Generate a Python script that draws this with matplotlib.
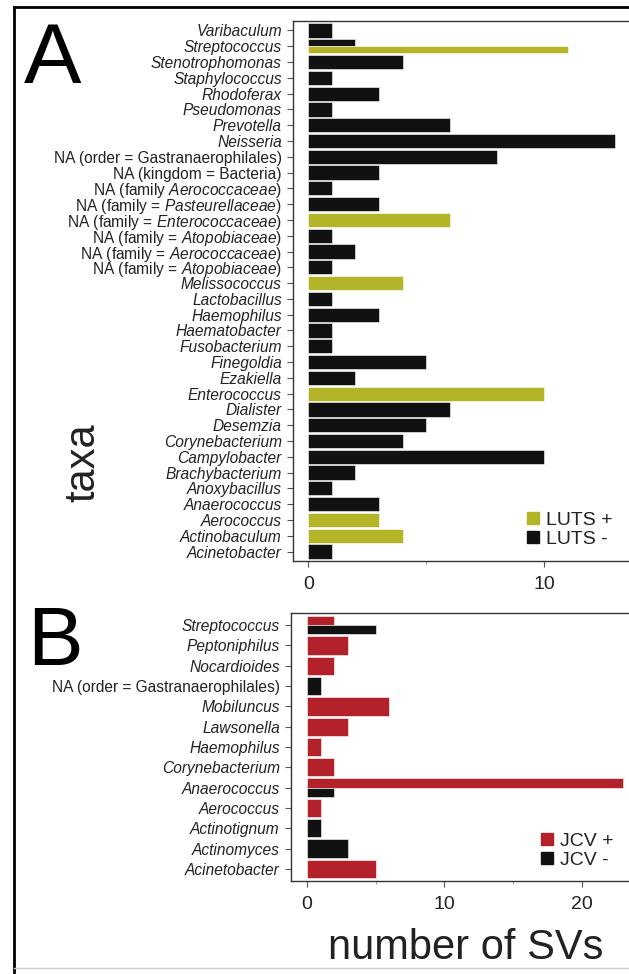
import matplotlib
matplotlib.use("Agg")
import matplotlib.pyplot as plt
from matplotlib.patches import Patch
from matplotlib.lines import Line2D

plt.rcParams['font.family'] = ['Liberation Sans', 'DejaVu Sans']
plt.rcParams['mathtext.fontset'] = 'custom'
plt.rcParams['mathtext.rm'] = 'Liberation Sans'
plt.rcParams['mathtext.it'] = 'Liberation Sans:italic'

# panel A (top to bottom as drawn)
taxa_a = [
    "Varibaculum", "Streptococcus", "Stenotrophomonas", "Staphylococcus",
    "Rhodoferax", "Pseudomonas", "Prevotella", "Neisseria",
    "NA (order = Gastranaerophilales)", "NA (kingdom = Bacteria)",
    r"NA (family $\mathit{Aerococcaceae}$)",
    r"NA (family = $\mathit{Pasteurellaceae}$)",
    r"NA (family = $\mathit{Enterococcaceae}$)",
    r"NA (family = $\mathit{Atopobiaceae}$)",
    r"NA (family = $\mathit{Aerococcaceae}$)",
    r"NA (family = $\mathit{Atopobiaceae}$)",
    "Melissococcus", "Lactobacillus", "Haemophilus", "Haematobacter",
    "Fusobacterium", "Finegoldia", "Ezakiella", "Enterococcus", "Dialister",
    "Desemzia", "Corynebacterium", "Campylobacter", "Brachybacterium",
    "Anoxybacillus", "Anaerococcus", "Aerococcus", "Actinobaculum",
    "Acinetobacter",
]
luts_pos = [0, 11, 0, 0, 0, 0, 0, 0, 0, 0, 0, 0, 6, 0, 0, 0, 4, 0, 0, 0,
            0, 0, 0, 10, 0, 0, 0, 0, 0, 0, 0, 3, 4, 0]
luts_neg = [1, 2, 4, 1, 3, 1, 6, 13, 8, 3, 1, 3, 0, 1, 2, 1, 0, 1, 3, 1,
            1, 5, 2, 0, 6, 5, 4, 10, 2, 1, 3, 0, 0, 1]

# panel B
taxa_b = [
    "Streptococcus", "Peptoniphilus", "Nocardioides",
    "NA (order = Gastranaerophilales)", "Mobiluncus", "Lawsonella",
    "Haemophilus", "Corynebacterium", "Anaerococcus", "Aerococcus",
    "Actinotignum", "Actinomyces", "Acinetobacter",
]
jcv_pos = [2, 3, 2, 0, 6, 3, 1, 2, 23, 1, 0, 0, 5]
jcv_neg = [5, 0, 0, 1, 0, 0, 0, 0, 2, 0, 1, 3, 0]

green = "#b4b428"
black = "#111111"
red = "#b3222a"
text_col = "#222222"

W, H = 629, 974
fig = plt.figure(figsize=(W / 100, H / 100), dpi=100)


def panel(rect, labels, upper, lower, c_upper, c_lower, xmax, major, minor):
    ax = fig.add_axes(rect)
    n = len(labels)
    for i in range(n):
        y = n - 1 - i
        a, b = upper[i], lower[i]
        if a > 0 and b > 0:
            ax.barh(y + 0.225, a, height=0.45, color=c_upper, edgecolor='white', linewidth=0.4)
            ax.barh(y - 0.225, b, height=0.45, color=c_lower, edgecolor='white', linewidth=0.4)
        elif a > 0:
            ax.barh(y, a, height=0.9, color=c_upper, edgecolor='white', linewidth=0.4)
        elif b > 0:
            ax.barh(y, b, height=0.9, color=c_lower, edgecolor='white', linewidth=0.4)
    ax.set_ylim(-0.6, n - 0.4)
    ax.set_xlim(-0.05 * xmax, 1.05 * xmax)
    ax.set_yticks(range(n))
    ax.set_yticklabels(labels[::-1], fontsize=11.2, color=text_col)
    for t in ax.get_yticklabels():
        if not t.get_text().startswith("NA"):
            t.set_fontstyle('italic')
    ax.set_xticks(major)
    ax.set_xticks(minor, minor=True)
    ax.tick_params(axis='x', which='major', labelsize=14, length=4, pad=7,
                   color='#555555', labelcolor=text_col)
    ax.tick_params(axis='x', which='minor', length=2, color='#888888')
    ax.tick_params(axis='y', length=4, pad=4, color='#555555')
    for s in ax.spines.values():
        s.set_color('#333333')
        s.set_linewidth(1.0)
    return ax


ax_a = panel([293 / W, 1 - 561 / H, 337 / W, 540 / H], taxa_a,
             luts_neg, luts_pos, black, green, 13, [0, 10], [5])
ax_b = panel([291 / W, 1 - 881 / H, 348 / W, 268 / H], taxa_b,
             jcv_pos, jcv_neg, red, black, 23, [0, 10, 20], [5, 15])

leg_kw = dict(frameon=False, fontsize=14, handlelength=0.6, handleheight=0.6,
              handletextpad=0.4, labelspacing=0.1, borderpad=0, borderaxespad=0,
              loc='center left', labelcolor=text_col)
fig.legend(handles=[Patch(color=green, label="LUTS +"), Patch(color=black, label="LUTS -")],
           bbox_to_anchor=(527 / W, 1 - 530 / H), **leg_kw)
fig.legend(handles=[Patch(color=red, label="JCV +"), Patch(color=black, label="JCV -")],
           bbox_to_anchor=(541 / W, 1 - 851 / H), **leg_kw)

fig.text(24 / W, 1 - 83 / H, "A", fontsize=62, va='baseline', ha='left')
fig.text(27 / W, 1 - 665 / H, "B", fontsize=60, va='baseline', ha='left')
fig.text(83 / W, 1 - 463 / H, "taxa", fontsize=30, rotation=90,
         va='center', ha='center', color=text_col)
fig.text(466 / W, 1 - 948 / H, "number of SVs", fontsize=30,
         va='center', ha='center', color=text_col)

# outer frame
fig.add_artist(Line2D([14 / W, 14 / W], [1 - 7 / H, 0], color='black', lw=2))
fig.add_artist(Line2D([14 / W, 1], [1 - 7 / H, 1 - 7 / H], color='black', lw=2))
fig.add_artist(Line2D([14 / W, 1], [1 - 968 / H, 1 - 968 / H], color='#cccccc', lw=1))

fig.savefig("out.png", dpi=100)
